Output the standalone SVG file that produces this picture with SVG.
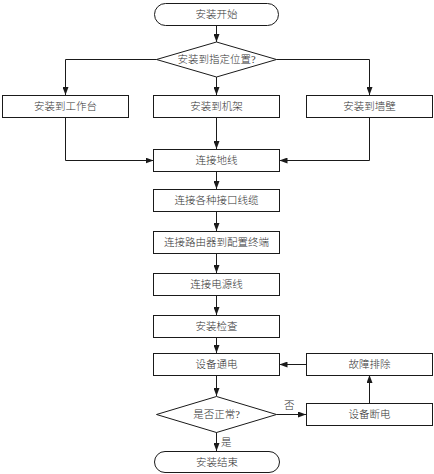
<svg xmlns="http://www.w3.org/2000/svg" width="434" height="474" viewBox="0 0 434 474">
<style>
.n{fill:#fff;stroke:#1a1a1a;stroke-width:1}
.t{font-family:"Liberation Serif","Noto Sans CJK SC",serif;font-size:10.5px;font-weight:300;fill:#333;text-anchor:middle;dominant-baseline:central}
.c{fill:none;stroke:#1a1a1a;stroke-width:1}
.l{font-family:"Liberation Serif","Noto Sans CJK SC",serif;font-size:10.5px;font-weight:300;fill:#333}
</style>
<defs>
<marker id="a" viewBox="0 0 8 6" refX="8" refY="3" markerWidth="8" markerHeight="6" markerUnits="userSpaceOnUse" orient="auto">
<path d="M0,0L8,3L0,6z" fill="#1a1a1a"/>
</marker>
</defs>
<rect width="434" height="474" fill="#fff"/>
<g id="connectors">
<path class="c" d="M216.5,25V42" marker-end="url(#a)"/>
<path class="c" d="M156.5,59.5H65.5V95" marker-end="url(#a)"/>
<path class="c" d="M216.5,77V95" marker-end="url(#a)"/>
<path class="c" d="M276.5,59.5H369.5V95" marker-end="url(#a)"/>
<path class="c" d="M65.5,117V160.5H153.5" marker-end="url(#a)"/>
<path class="c" d="M216.5,117V149" marker-end="url(#a)"/>
<path class="c" d="M369.5,117V160.5H279.5" marker-end="url(#a)"/>
<path class="c" d="M216.5,171V189" marker-end="url(#a)"/>
<path class="c" d="M216.5,211V231" marker-end="url(#a)"/>
<path class="c" d="M216.5,253V273" marker-end="url(#a)"/>
<path class="c" d="M216.5,295V315" marker-end="url(#a)"/>
<path class="c" d="M216.5,337V353" marker-end="url(#a)"/>
<path class="c" d="M216.5,375V396" marker-end="url(#a)"/>
<path class="c" d="M276.5,414.5H306" marker-end="url(#a)"/>
<path class="c" d="M369.5,403V375" marker-end="url(#a)"/>
<path class="c" d="M306,364.5H279.5" marker-end="url(#a)"/>
<path class="c" d="M216.5,432V451" marker-end="url(#a)"/>
<text class="l" x="284" y="409">否</text>
<text class="l" x="221" y="446">是</text>
</g>
<g id="start"><rect class="n" x="154.5" y="3.5" width="124" height="22" rx="11"/><text class="t" x="216.5" y="14.5">安装开始</text></g>
<g id="d1"><path class="n" d="M156.5,59.5L216.5,42L276.5,59.5L216.5,77z"/><text class="t" x="216.5" y="59.5">安装到指定位置?</text></g>
<g id="b1"><rect class="n" x="2.5" y="95.5" width="126" height="22"/><text class="t" x="65.5" y="106.5">安装到工作台</text></g>
<g id="b2"><rect class="n" x="153.5" y="95.5" width="126" height="22"/><text class="t" x="216.5" y="106.5">安装到机架</text></g>
<g id="b3"><rect class="n" x="306.5" y="95.5" width="126" height="22"/><text class="t" x="369.5" y="106.5">安装到墙壁</text></g>
<g id="b4"><rect class="n" x="153.5" y="149.5" width="126" height="22"/><text class="t" x="216.5" y="160.5">连接地线</text></g>
<g id="b5"><rect class="n" x="153.5" y="189.5" width="126" height="22"/><text class="t" x="216.5" y="200.5">连接各种接口线缆</text></g>
<g id="b6"><rect class="n" x="153.5" y="231.5" width="126" height="22"/><text class="t" x="216.5" y="242.5">连接路由器到配置终端</text></g>
<g id="b7"><rect class="n" x="153.5" y="273.5" width="126" height="22"/><text class="t" x="216.5" y="284.5">连接电源线</text></g>
<g id="b8"><rect class="n" x="153.5" y="315.5" width="126" height="22"/><text class="t" x="216.5" y="326.5">安装检查</text></g>
<g id="b9"><rect class="n" x="153.5" y="353.5" width="126" height="22"/><text class="t" x="216.5" y="364.5">设备通电</text></g>
<g id="b10"><rect class="n" x="306.5" y="353.5" width="126" height="22"/><text class="t" x="369.5" y="364.5">故障排除</text></g>
<g id="d2"><path class="n" d="M156.5,414.5L216.5,396.5L276.5,414.5L216.5,432.5z"/><text class="t" x="216.5" y="414.5">是否正常?</text></g>
<g id="b11"><rect class="n" x="306.5" y="403.5" width="126" height="22"/><text class="t" x="369.5" y="414.5">设备断电</text></g>
<g id="end"><rect class="n" x="154.5" y="451.5" width="125" height="21" rx="10.5"/><text class="t" x="217" y="462">安装结束</text></g>
</svg>
